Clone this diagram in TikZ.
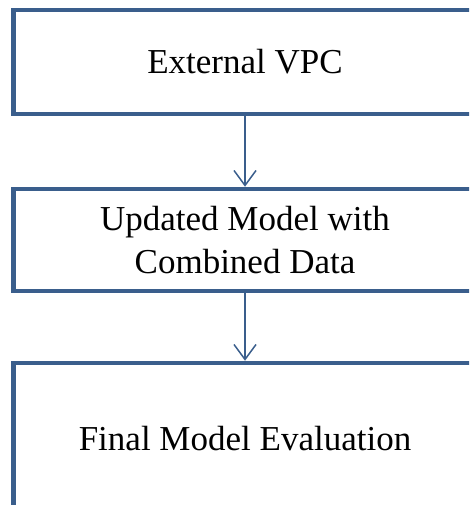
\documentclass[tikz,border=0pt]{standalone}
\usepackage{fontspec}
\setmainfont{Liberation Serif}
\usetikzlibrary{arrows.meta}
\definecolor{boxblue}{RGB}{58,94,140}
\begin{document}
\begin{tikzpicture}[x=1pt, y=1pt,
    stage/.style={draw=boxblue, line width=4.5pt, minimum width=463pt, align=center,
        font=\fontsize{35}{43}\selectfont, inner sep=0pt},
    flow/.style={-{Straight Barb[length=15pt, width=22pt]}, boxblue, line width=1.5pt}]
    % Visible area, the boxes run past the right and bottom edges
    \useasboundingbox (0, 0) rectangle (469, -505);
    \clip (0, 0) rectangle (469, -505);

    % Three stacked stages
    \node[stage, minimum height=104pt] (vpc) at (245, -62) {External VPC};
    \node[stage, minimum height=102pt] (update) at (245, -240) {Updated Model with\\Combined Data};
    \node[stage, minimum height=152pt] (final) at (245, -439) {Final Model Evaluation};

    % Arrows between the stages
    \draw[flow] (vpc) -- (update);
    \draw[flow] (update) -- (final);
\end{tikzpicture}
\end{document}
